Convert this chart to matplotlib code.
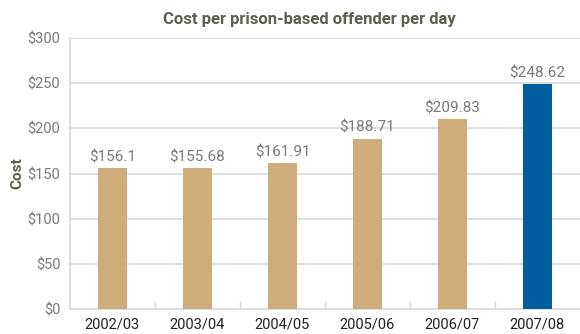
import matplotlib.pyplot as plt
import numpy as np

years = ["2002/03", "2003/04", "2004/05", "2005/06", "2006/07", "2007/08"]
costs = [156.10, 155.68, 161.91, 188.71, 209.83, 248.62]
cost_labels = ["$156.1", "$155.68", "$161.91", "$188.71", "$209.83", "$248.62"]
y_ticks = [0, 50, 100, 150, 200, 250, 300]

TAN = "#cfac7c"
BLUE = "#005e9c"
GRID = "#d9d9d9"

plt.rcParams["font.family"] = ["Roboto", "DejaVu Sans"]


def main():
    fig = plt.figure(figsize=(5.8, 3.34), dpi=100)
    ax = fig.add_axes([0.1207, 0.075, 0.879, 0.811])

    x = np.arange(len(years))
    colors = [TAN] * (len(years) - 1) + [BLUE]
    bars = ax.bar(x, costs, width=0.34, color=colors, zorder=3)

    for bar, lab in zip(bars, cost_labels):
        ax.text(bar.get_x() + bar.get_width() / 2, bar.get_height() + 4, lab,
                ha="center", va="bottom", fontsize=11, color="#7a7a7a")

    ax.set_xlim(-0.5, len(years) - 0.5)
    ax.set_ylim(0, 300)
    ax.set_yticks(y_ticks)
    ax.set_yticklabels([f"${v}" for v in y_ticks], fontsize=10.5, color="#7a7a7a")
    ax.yaxis.grid(True, color=GRID, linewidth=1.2, zorder=0)
    ax.tick_params(axis="y", length=0, pad=7)

    ax.set_xticks(x)
    ax.set_xticklabels(years, fontsize=10.5, color="#222222")
    ax.tick_params(axis="x", which="major", length=0, pad=6)
    ax.set_xticks(np.arange(0.5, len(years) - 1, 1), minor=True)
    ax.tick_params(axis="x", which="minor", direction="in", length=6,
                   color=GRID, width=1)

    for side in ["top", "right"]:
        ax.spines[side].set_visible(False)
    for side in ["left", "bottom"]:
        ax.spines[side].set_color(GRID)
        ax.spines[side].set_linewidth(1.2)

    ax.set_ylabel("Cost", fontsize=11, fontweight="bold", color="#5e5e50",
                  labelpad=2)
    ax.set_title("Cost per prison-based offender per day", fontsize=12,
                 fontweight="bold", color="#5e5e50", pad=10, x=0.47)

    fig.savefig("out.png", dpi=100)


if __name__ == "__main__":
    main()
